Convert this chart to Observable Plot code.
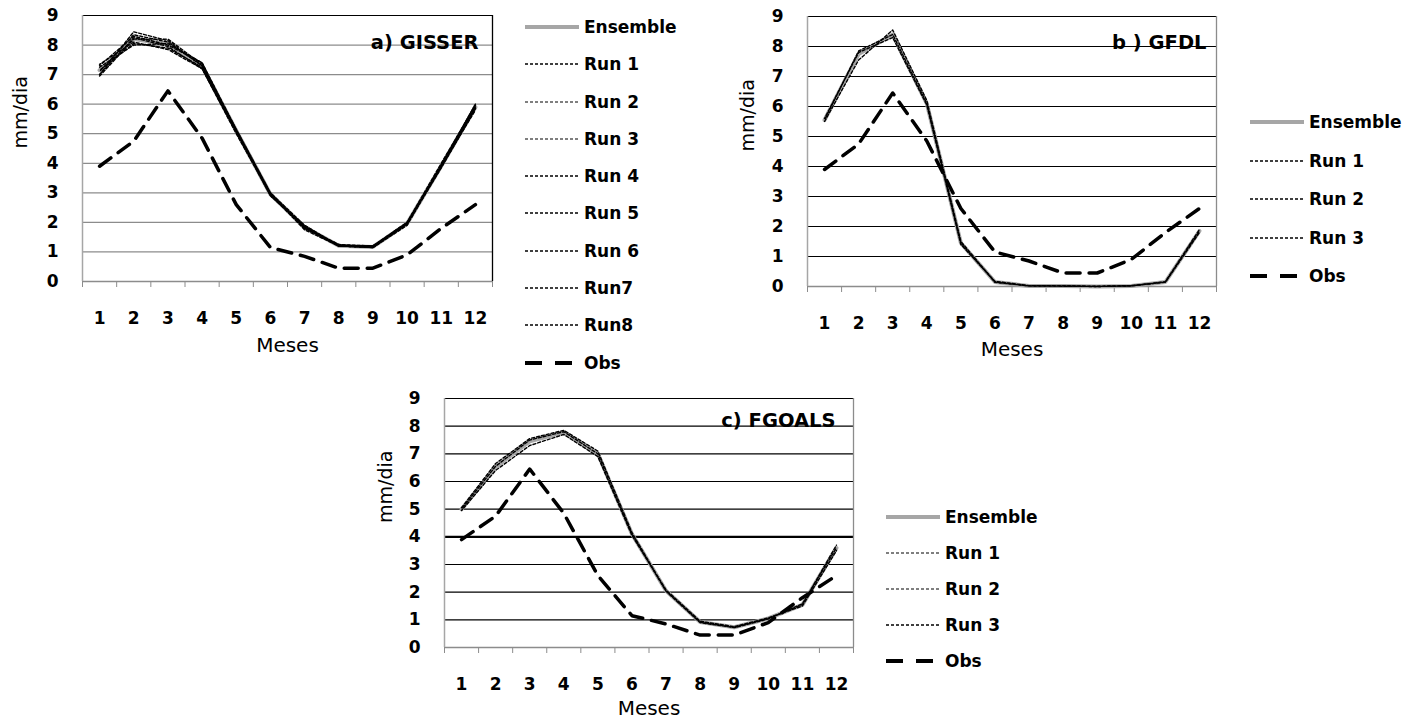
<!DOCTYPE html>
<html>
<head>
<meta charset="utf-8">
<script src="https://cdn.jsdelivr.net/npm/d3@7"></script>
<script src="https://cdn.jsdelivr.net/npm/@observablehq/plot@0.6"></script>
<style>
  html, body { margin: 0; padding: 0; background: #fff; }
  #root { position: relative; width: 1418px; height: 725px; overflow: hidden; font-family: "DejaVu Sans", sans-serif; }
  .panel { position: absolute; }
  .legend { position: absolute; display: flex; flex-direction: column; }
  .legend .item { display: flex; align-items: center; font-weight: bold; font-size: 17px; color: #000; }
  .legend svg { margin-right: 5px; flex: none; }
</style>
</head>
<body>
<div id="root"></div>
<script>
// ---------- data ----------
const months = [1, 2, 3, 4, 5, 6, 7, 8, 9, 10, 11, 12];
const yTicks = [0, 1, 2, 3, 4, 5, 6, 7, 8, 9];
const obs = [3.9, 4.75, 6.45, 4.85, 2.6, 1.15, 0.85, 0.45, 0.45, 0.9, 1.8, 2.6];

// a) GISSER
const gisserEnsemble = [7.15, 8.2, 8.03, 7.3, 5.1, 2.95, 1.84, 1.21, 1.17, 1.96, 3.91, 5.9];
const gisserRun1 = [7.0, 8.45, 8.15, 7.3, 5.1, 2.95, 1.8, 1.2, 1.15, 1.95, 3.95, 5.9];
const gisserRun2 = [7.3, 8.3, 8.0, 7.4, 5.15, 3.0, 1.9, 1.2, 1.2, 2.0, 3.9, 6.0];
const gisserRun3 = [7.15, 8.05, 7.9, 7.25, 5.05, 2.9, 1.85, 1.25, 1.15, 1.95, 3.85, 5.85];
const gisserRun4 = [6.95, 8.2, 8.2, 7.35, 5.1, 2.95, 1.75, 1.2, 1.2, 2.0, 4.0, 5.95];
const gisserRun5 = [7.35, 8.1, 7.85, 7.2, 5.0, 2.95, 1.85, 1.2, 1.15, 1.9, 3.9, 5.8];
const gisserRun6 = [7.1, 8.35, 8.1, 7.3, 5.15, 3.0, 1.8, 1.25, 1.2, 1.95, 3.95, 6.0];
const gisserRun7 = [7.25, 8.0, 8.05, 7.4, 5.1, 2.9, 1.9, 1.2, 1.15, 2.0, 3.9, 5.9];
const gisserRun8 = [7.0, 8.25, 7.95, 7.2, 5.05, 2.95, 1.85, 1.2, 1.2, 1.95, 3.85, 5.85];

// b) GFDL
const gfdlEnsemble = [5.55, 7.75, 8.4, 6.1, 1.45, 0.15, 0.02, 0.02, 0.0, 0.02, 0.15, 1.85];
const gfdlRun1 = [5.5, 7.55, 8.55, 6.2, 1.5, 0.15, 0.02, 0.02, 0.0, 0.02, 0.15, 1.85];
const gfdlRun2 = [5.6, 7.8, 8.3, 6.05, 1.4, 0.17, 0.03, 0.02, 0.01, 0.03, 0.14, 1.8];
const gfdlRun3 = [5.55, 7.85, 8.4, 6.1, 1.45, 0.14, 0.02, 0.01, 0.0, 0.02, 0.16, 1.9];

// c) FGOALS
const fgoalsEnsemble = [5.0, 6.53, 7.45, 7.78, 7.0, 4.1, 2.05, 0.92, 0.73, 1.05, 1.54, 3.6];
const fgoalsRun1 = [5.05, 6.65, 7.55, 7.85, 7.1, 4.15, 2.05, 0.92, 0.73, 1.05, 1.55, 3.7];
const fgoalsRun2 = [4.95, 6.4, 7.3, 7.7, 6.9, 4.05, 2.08, 0.95, 0.75, 1.07, 1.5, 3.5];
const fgoalsRun3 = [5.0, 6.55, 7.5, 7.8, 7.0, 4.1, 2.03, 0.9, 0.72, 1.03, 1.58, 3.6];

const xLabel = "Meses";
const yLabel = "mm/dia";

// ---------- helpers ----------
const toRows = (vals) => months.map((m, i) => ({month: m, value: vals[i]}));
const edges = [0.5, ...months.map(m => m + 0.5)];
const FONT = "'DejaVu Sans', sans-serif";

function panel(cfg) {
  const runMarks = cfg.runs.map((r, i) =>
    Plot.line(toRows(r), {x: "month", y: "value", stroke: "#000", strokeWidth: 1.4,
      strokeDasharray: "3,2", strokeDashoffset: (i * 1.7) % 5})
  );
  return Plot.plot({
    width: cfg.width, height: cfg.height,
    marginLeft: 82, marginRight: 8, marginTop: 15, marginBottom: cfg.height - 15 - cfg.plotH,
    x: {domain: [0.5, 12.5]},
    y: {domain: [0, 9]},
    style: {fontFamily: FONT, fontSize: "17px", fontWeight: "bold", color: "#000", background: "transparent"},
    marks: [
      Plot.ruleY(yTicks.filter(t => t > 0), {y: d => d, stroke: d => (d === 9 ? cfg.topColor : cfg.gridColor),
        strokeWidth: d => (d === cfg.thick ? 2.2 : 1.2), strokeOpacity: 1}),
      Plot.ruleY([0], {stroke: "#8c8c8c", strokeWidth: 1.3}),
      Plot.ruleX([0.5], {stroke: "#a6a6a6", strokeWidth: 1.5}),
      Plot.ruleX([12.5], {stroke: cfg.rightColor, strokeWidth: 1.3}),
      Plot.axisX(edges, {tickSize: 6, tickFormat: () => "", stroke: "#8c8c8c", label: null}),
      Plot.axisX(months, {tickSize: 0, tickPadding: 30, fontSize: 17, fontWeight: "bold", label: null}),
      Plot.axisY(yTicks, {tickSize: 0, tickPadding: 24, fontSize: 17, fontWeight: "bold", label: null}),
      Plot.line(toRows(cfg.ensemble), {x: "month", y: "value", stroke: "#a6a6a6", strokeWidth: 4}),
      ...runMarks,
      Plot.line(toRows(obs), {x: "month", y: "value", stroke: "#000", strokeWidth: 3.5, strokeDasharray: "14,9"}),
      Plot.text([cfg.title], {frameAnchor: "top-right", dx: cfg.titleDx, dy: cfg.titleDy, textAnchor: "end",
        fontSize: 19.5, fontWeight: "bold", fill: "#000"}),
      Plot.text([xLabel], {frameAnchor: "bottom", dy: cfg.xLabelDy, fontSize: 20, fontWeight: "normal", fill: "#000"}),
      Plot.text([yLabel], {frameAnchor: "left", dx: cfg.yLabelDx, rotate: -90, fontSize: 19, fontWeight: "normal", fill: "#000"})
    ]
  });
}

function legend(items, left, top, step) {
  const div = document.createElement("div");
  div.className = "legend";
  div.style.left = left + "px";
  div.style.top = top + "px";
  for (const it of items) {
    const row = document.createElement("div");
    row.className = "item";
    row.style.height = step + "px";
    let line;
    if (it.kind === "ens") line = `<line x1="0" y1="6" x2="54" y2="6" stroke="#a6a6a6" stroke-width="4"/>`;
    else if (it.kind === "obs") line = `<line x1="0" y1="6" x2="54" y2="6" stroke="#000" stroke-width="4" stroke-dasharray="17,13"/>`;
    else line = `<line x1="0" y1="6" x2="54" y2="6" stroke="${it.color || "#000"}" stroke-width="1.3" stroke-dasharray="3,2"/>`;
    row.innerHTML = `<svg width="54" height="12">${line}</svg><span>${it.label}</span>`;
    div.appendChild(row);
  }
  return div;
}

const root = document.getElementById("root");
function place(el, left, top) {
  const wrap = document.createElement("div");
  wrap.className = "panel";
  wrap.style.left = left + "px";
  wrap.style.top = top + "px";
  wrap.appendChild(el);
  root.appendChild(wrap);
}

place(panel({
  width: 500, height: 361, plotH: 266, title: "a) GISSER", titleDx: -14, titleDy: 20,
  ensemble: gisserEnsemble,
  runs: [gisserRun1, gisserRun2, gisserRun3, gisserRun4, gisserRun5, gisserRun6, gisserRun7, gisserRun8],
  gridColor: "#8c8c8c", topColor: "#000", rightColor: "#000", thick: null,
  xLabelDy: 70, yLabelDx: -62
}), 0, 0);

place(panel({
  width: 499, height: 365, plotH: 270, title: "b ) GFDL", titleDx: -10, titleDy: 19,
  ensemble: gfdlEnsemble, runs: [gfdlRun1, gfdlRun2, gfdlRun3],
  gridColor: "#000", topColor: "#000", rightColor: "#8c8c8c", thick: null,
  xLabelDy: 69, yLabelDx: -60
}), 725, 1);

place(panel({
  width: 499, height: 342, plotH: 249, title: "c) FGOALS", titleDx: -18, titleDy: 15,
  ensemble: fgoalsEnsemble, runs: [fgoalsRun1, fgoalsRun2, fgoalsRun3],
  gridColor: "#000", topColor: "#000", rightColor: "#8c8c8c", thick: 4,
  xLabelDy: 67, yLabelDx: -59
}), 362, 383);

root.appendChild(legend([
  {kind: "ens", label: "Ensemble"},
  {kind: "run", label: "Run 1"},
  {kind: "run", label: "Run 2", color: "#555"},
  {kind: "run", label: "Run 3", color: "#555"},
  {kind: "run", label: "Run 4"},
  {kind: "run", label: "Run 5"},
  {kind: "run", label: "Run 6"},
  {kind: "run", label: "Run7"},
  {kind: "run", label: "Run8"},
  {kind: "obs", label: "Obs"}
], 525, 8.35, 37.3));

root.appendChild(legend([
  {kind: "ens", label: "Ensemble"},
  {kind: "run", label: "Run 1"},
  {kind: "run", label: "Run 2"},
  {kind: "run", label: "Run 3"},
  {kind: "obs", label: "Obs"}
], 1250, 102.75, 38.5));

root.appendChild(legend([
  {kind: "ens", label: "Ensemble"},
  {kind: "run", label: "Run 1", color: "#555"},
  {kind: "run", label: "Run 2", color: "#555"},
  {kind: "run", label: "Run 3"},
  {kind: "obs", label: "Obs"}
], 886, 499, 36));
</script>
</body>
</html>
